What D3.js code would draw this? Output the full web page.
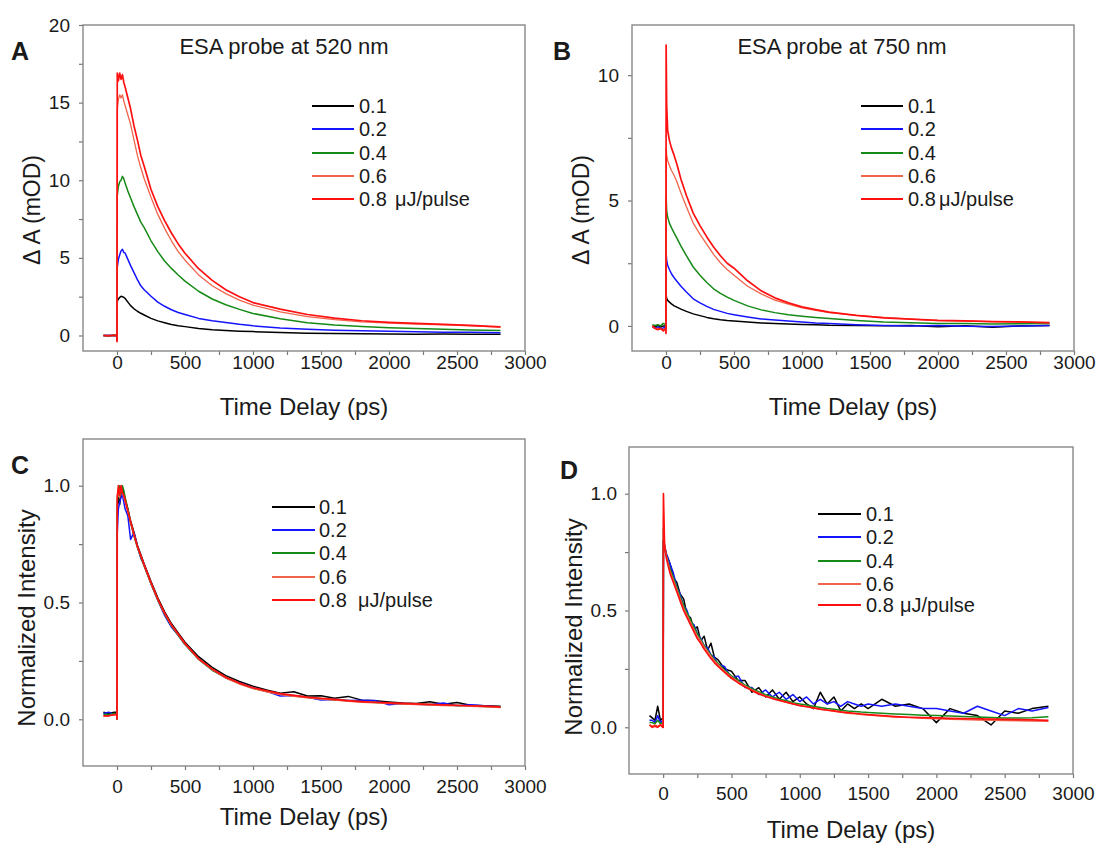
<!DOCTYPE html>
<html>
<head>
<meta charset="utf-8">
<script src="https://cdn.jsdelivr.net/npm/d3@7"></script>
<style>
body { margin: 0; background: #fff; }
svg text { font-family: "Liberation Sans", Arial, sans-serif; fill: #1a1a1a; }
</style>
</head>
<body>
<svg id="svg" width="1098" height="848"></svg>
<script>
// ---- data (time in ps) ----
var seriesNames = ["0.1", "0.2", "0.4", "0.6", "0.8"];

// panel A: ESA at 520 nm, dA in mOD
var timeA = [-100,-60,-20,-2,0,2,10,20,30,40,50,60,80,100,125,150,175,200,250,300,350,400,450,500,600,700,800,900,1000,1200,1400,1600,1800,2000,2200,2400,2600,2820];
var A_01 = [0,-0.02,0.01,0,-0.3, 2.2,2.35,2.45,2.52,2.5, 2.45,2.38,2.15,1.92,1.72, 1.56,1.43,1.32,1.1,0.94, 0.82,0.71,0.63,0.57,0.45, 0.37,0.32,0.28,0.25,0.19, 0.15,0.13,0.11,0.1,0.08, 0.09,0.08,0.08];
var A_02 = [0,0.01,-0.01,0,-0.3, 4.4,4.9,5.2,5.45,5.55, 5.35,5.3,4.9,4.5,4.05, 3.6,3.2,2.95,2.53,2.15, 1.88,1.66,1.48,1.35,1.1, 0.95,0.84,0.72,0.62,0.48, 0.4,0.34,0.3,0.27,0.24, 0.2,0.2,0.17];
var A_04 = [0,-0.02,0.01,0,-0.3, 9.0,9.6,9.9,10.0,10.25, 10.1,9.8,9.3,8.85,8.3, 7.8,7.3,6.95,6.1,5.4, 4.8,4.32,3.9,3.5,2.85, 2.35,1.98,1.68,1.42,1.08, 0.82,0.68,0.58,0.5,0.45, 0.4,0.36,0.32];
var A_06 = [0,0.01,-0.01,0,-0.3, 14.6,15.2,15.5,15.3,15.5, 15.1,14.8,14.2,13.6,12.6, 11.6,10.8,10.1,8.9,7.8, 6.9,6.1,5.4,4.85,3.9, 3.2,2.7,2.28,1.95,1.52, 1.22,1.02,0.88,0.8,0.74, 0.69,0.62,0.54];
var A_08 = [0,-0.02,0.02,0,-0.4, 16.9,16.4,16.9,16.5,16.8, 16.3,16.0,15.3,14.6,13.5, 12.6,11.6,10.9,9.4,8.3, 7.4,6.6,5.9,5.3,4.3, 3.55,2.95,2.5,2.12,1.7, 1.35,1.12,0.95,0.85,0.78, 0.72,0.65,0.56];

// panel B: ESA at 750 nm, dA in mOD
var timeB = [-100,-80,-60,-40,-20,-2,0,1,5,12,25,40,60,80,110,150,200,250,300,350,400,450,500,600,700,800,900,1000,1100,1200,1400,1600,1800,2000,2200,2400,2600,2820];
var B_01 = [0,-0.05,0.02,-0.05,0, 0,-0.05,1.24,1.1,1.02, 0.95,0.88,0.8,0.75,0.67, 0.58,0.48,0.41,0.34,0.29, 0.25,0.22,0.2,0.16,0.12, 0.1,0.08,0.06,0.05,0.03, 0.02,0.01,0.02,-0.03,0.01, -0.05,0.0,0.02];
var B_02 = [-0.05,-0.1,-0.05,-0.1,-0.08, -0.05,-0.1,2.9,2.6,2.42, 2.25,2.08,1.92,1.78,1.58, 1.35,1.08,0.92,0.78,0.66, 0.58,0.5,0.45,0.36,0.28, 0.24,0.2,0.16,0.12,0.1, 0.05,0.02,0.0,0.02,-0.01, -0.02,0.0,0.02];
var B_04 = [0.05,0.02,0.05,0.0,0.1, 0.05,-0.1,5.2,4.6,4.35, 4.1,3.92,3.7,3.5,3.18, 2.8,2.35,2.02,1.73,1.48, 1.3,1.15,1.02,0.8,0.64, 0.53,0.45,0.39,0.34,0.3, 0.22,0.16,0.13,0.1,0.1, 0.08,0.09,0.1];
var B_06 = [-0.05,-0.1,-0.1,-0.12,-0.15, -0.1,-0.2,7.1,6.8,6.6, 6.4,6.2,6.0,5.75,5.3, 4.75,4.1,3.65,3.25,2.85, 2.52,2.25,2.02,1.58,1.28, 1.03,0.87,0.72,0.62,0.53, 0.42,0.34,0.27,0.21,0.19, 0.17,0.15,0.12];
var B_08 = [0,-0.1,-0.15,-0.1,-0.2, -0.1,-0.3,11.2,8.8,7.8, 7.4,7.1,6.8,6.45,5.85, 5.2,4.5,4.0,3.55,3.15, 2.8,2.5,2.3,1.8,1.4, 1.12,0.92,0.76,0.65,0.55, 0.42,0.32,0.27,0.22,0.2, 0.17,0.16,0.13];

// panel C: 520 nm normalized
var timeC = [-100,-60,-20,-2,0,2,10,20,30,40,50,60,80,100,125,150,175,200,250,300,350,400,450,500,600,700,800,900,1000,1100,1200,1300,1400,1500,1600,1700,1800,1900,2000,2100,2200,2300,2400,2500,2600,2700,2820];
var C_01 = [0.03,0.025,0.03,0.03,0.02, 0.9,0.95,0.92,0.97,0.99, 0.97,0.94,0.9,0.85,0.8, 0.745,0.705,0.665,0.59,0.52, 0.46,0.41,0.37,0.33,0.268, 0.222,0.187,0.162,0.142,0.125, 0.112,0.118,0.1,0.101,0.09, 0.098,0.082,0.079,0.074,0.07, 0.068,0.075,0.064,0.072,0.06, 0.058,0.056];
var C_02 = [0.025,0.03,0.02,0.025,0.01, 0.8,0.9,0.93,0.95,0.96, 0.93,0.9,0.87,0.77,0.8, 0.74,0.69,0.66,0.58,0.51, 0.445,0.395,0.36,0.32,0.258, 0.212,0.178,0.155,0.135,0.12, 0.1,0.102,0.094,0.083,0.085, 0.08,0.082,0.08,0.062,0.068, 0.064,0.062,0.07,0.058,0.062, 0.058,0.052];
var C_04 = [0.02,0.02,0.025,0.02,0.0, 0.93,0.98,1.0,0.98,1.0, 0.98,0.95,0.9,0.84,0.785, 0.735,0.695,0.655,0.58,0.51, 0.45,0.4,0.36,0.32,0.256, 0.21,0.178,0.153,0.133,0.119, 0.108,0.1,0.094,0.088,0.084, 0.079,0.075,0.072,0.07,0.067, 0.065,0.063,0.061,0.059,0.057, 0.055,0.053];
var C_06 = [0.015,0.015,0.02,0.02,0.0, 0.96,0.98,0.95,0.99,0.97, 0.95,0.93,0.89,0.845,0.79, 0.74,0.7,0.66,0.582,0.512, 0.452,0.402,0.362,0.322,0.257, 0.212,0.176,0.151,0.131,0.117, 0.106,0.098,0.092,0.086,0.082, 0.077,0.073,0.07,0.067,0.065, 0.063,0.061,0.059,0.057,0.055, 0.053,0.05];
var C_08 = [0.015,0.015,0.02,0.02,0.0, 0.95,1.0,0.96,1.0,0.97, 0.96,0.94,0.89,0.845,0.79, 0.74,0.7,0.66,0.585,0.515, 0.455,0.405,0.365,0.325,0.26, 0.215,0.18,0.155,0.135,0.122, 0.11,0.102,0.095,0.09,0.085, 0.08,0.076,0.073,0.07,0.068, 0.066,0.064,0.062,0.06,0.058, 0.056,0.053];

// panel D: 750 nm normalized
var timeD = [-100,-80,-60,-40,-20,-2,0,2,10,25, 50,75,100,125,150,175,200,225,250,275, 300,325,350,375,400,450,500,550,600,650, 700,750,800,850,900,950,1000,1050,1100,1150, 1200,1250,1300,1350,1400,1450,1500,1600,1700,1800, 1900,2000,2100,2200,2300,2400,2500,2600,2700,2820];
var D_01 = [0.05,0.04,0.03,0.09,0.03,0.04,0.0,0.8,0.77,0.74, 0.7,0.64,0.62,0.57,0.55,0.48,0.47,0.42,0.43,0.37, 0.39,0.33,0.36,0.3,0.29,0.25,0.24,0.2,0.2,0.15, 0.17,0.13,0.16,0.12,0.15,0.11,0.13,0.1,0.08,0.15, 0.1,0.13,0.07,0.1,0.08,0.1,0.08,0.12,0.09,0.1, 0.08,0.02,0.08,0.06,0.05,0.01,0.07,0.06,0.08,0.09];
var D_02 = [0.03,0.03,0.02,0.05,0.02,0.03,0.0,0.8,0.78,0.74, 0.7,0.66,0.6,0.57,0.52,0.5,0.45,0.44,0.4,0.38, 0.35,0.34,0.31,0.3,0.27,0.26,0.21,0.22,0.17,0.17, 0.14,0.16,0.13,0.15,0.12,0.14,0.11,0.13,0.1,0.12, 0.1,0.11,0.09,0.11,0.1,0.09,0.1,0.09,0.1,0.09, 0.08,0.08,0.07,0.06,0.09,0.07,0.05,0.08,0.07,0.085];
var D_04 = [0.02,0.02,0.015,0.03,0.015,0.02,0.0,0.85,0.77,0.73, 0.68,0.64,0.6,0.56,0.52,0.49,0.46,0.43,0.4,0.375, 0.35,0.33,0.31,0.29,0.275,0.245,0.22,0.2,0.18,0.165, 0.152,0.14,0.13,0.12,0.115,0.105,0.1,0.095,0.09,0.085, 0.08,0.077,0.073,0.07,0.068,0.065,0.063,0.06,0.057,0.055, 0.052,0.05,0.048,0.046,0.044,0.042,0.04,0.04,0.041,0.045];
var D_06 = [0.01,0.005,0.01,0.005,0.01,0.01,0.0,0.9,0.79,0.73, 0.67,0.63,0.59,0.55,0.51,0.48,0.45,0.42,0.39,0.37, 0.345,0.325,0.305,0.285,0.27,0.24,0.215,0.195,0.177,0.16, 0.147,0.135,0.125,0.116,0.108,0.1,0.094,0.088,0.082,0.077, 0.072,0.068,0.064,0.06,0.057,0.054,0.052,0.048,0.044,0.041, 0.038,0.036,0.034,0.033,0.031,0.03,0.029,0.028,0.027,0.025];
var D_08 = [0.01,0.0,0.005,0.0,0.01,0.0,0.0,1.0,0.78,0.72, 0.66,0.62,0.58,0.54,0.5,0.47,0.44,0.41,0.38,0.36, 0.335,0.315,0.295,0.277,0.262,0.235,0.21,0.19,0.172,0.157, 0.143,0.132,0.123,0.115,0.108,0.1,0.093,0.088,0.083,0.078, 0.074,0.07,0.066,0.063,0.06,0.057,0.054,0.05,0.046,0.043, 0.041,0.04,0.038,0.037,0.036,0.035,0.034,0.033,0.032,0.03];

var xMajor = [0,500,1000,1500,2000,2500,3000];
var xMinor = [250,750,1250,1750,2250,2750];

var colorList = ["#000000","#1414ff","#168a16","#f0644c","#ff1010"];
var widthList = [1.5,1.5,1.5,1.3,1.7];

var svg = d3.select("#svg");

function drawPanel(p){
    var g = svg.append("g");
    var x = d3.scaleLinear().domain([-250,3000]).range([p.left,p.right]);
    var y = d3.scaleLinear().domain(p.yDomain).range([p.bottom,p.top]);

    // ticks
    var gx = g.append("g").attr("transform","translate(0,"+p.bottom+")");
    gx.append("g").call(d3.axisBottom(x).tickValues(xMinor).tickSize(4).tickFormat(""));
    gx.append("g").call(d3.axisBottom(x).tickValues(xMajor).tickSize(4).tickFormat(d3.format("d")));
    gx.selectAll("text").attr("y", p.xTickY - p.bottom).attr("dy", null)
        .style("font-size","19px");

    var gy = g.append("g").attr("transform","translate("+p.left+",0)");
    gy.append("g").call(d3.axisLeft(y).tickValues(p.yMinor).tickSize(4).tickFormat(""));
    gy.append("g").call(d3.axisLeft(y).tickValues(p.yMajor).tickSize(4).tickPadding(p.yPad).tickFormat(d3.format(p.yFmt)));
    gy.selectAll("text").style("font-size","19px");

    g.selectAll(".domain").remove();
    g.selectAll(".tick line").attr("stroke","#777").attr("stroke-width",1.2);
    g.selectAll(".tick text").style("fill","#1a1a1a").attr("font-family",null);

    // frame
    g.append("rect")
        .attr("x",p.left).attr("y",p.top)
        .attr("width",p.right-p.left).attr("height",p.bottom-p.top)
        .attr("fill","none").attr("stroke","#888").attr("stroke-width",1.4);

    // curves
    var line = d3.line().x(function(d){ return x(d[0]); }).y(function(d){ return y(d[1]); });
    for (let i = 0; i < p.series.length; i++){
        var pts = p.time.map(function(t,j){ return [t, p.series[i][j]]; });
        g.append("path").datum(pts)
            .attr("d", line)
            .attr("fill","none")
            .attr("stroke", colorList[i])
            .attr("stroke-width", widthList[i])
            .attr("stroke-linejoin","round");
    }

    // legend
    for (let i = 0; i < seriesNames.length; i++){
        g.append("line")
            .attr("x1",p.legX1).attr("x2",p.legX2)
            .attr("y1",p.legY[i]).attr("y2",p.legY[i])
            .attr("stroke",colorList[i]).attr("stroke-width",2);
        g.append("text")
            .attr("x",p.legTextX).attr("y",p.legY[i]+7)
            .style("font-size","20px")
            .text(seriesNames[i]);
    }
    g.append("text")
        .attr("x",p.unitX).attr("y",p.legY[4]+7)
        .style("font-size","20px")
        .text("μJ/pulse");

    // labels
    g.append("text")
        .attr("x",p.letterX).attr("y",p.letterY)
        .style("font-size","25px").style("font-weight","bold")
        .text(p.letter);
    if (p.title){
        g.append("text")
            .attr("x",p.titleX).attr("y",p.titleY)
            .attr("text-anchor","middle")
            .style("font-size","22px")
            .text(p.title);
    }
    g.append("text")
        .attr("x",(p.left+p.right)/2).attr("y",p.xLabelY)
        .attr("text-anchor","middle")
        .style("font-size","24px")
        .text("Time Delay (ps)");
    g.append("text")
        .attr("transform","translate("+p.yLabelX+","+p.yLabelY+") rotate(-90)")
        .attr("text-anchor","middle")
        .style("font-size",p.yLabelSize)
        .text(p.yLabel);
}

drawPanel({
    left:83, right:525, top:25, bottom:351,
    yDomain:[-1,20], yMajor:[0,5,10,15,20], yMinor:[2.5,7.5,12.5,17.5], yFmt:"d", yPad:9,
    time:timeA, series:[A_01,A_02,A_04,A_06,A_08],
    xTickY:369, xLabelY:415,
    letter:"A", letterX:11, letterY:60,
    title:"ESA probe at 520 nm", titleX:284, titleY:54,
    yLabel:"\u0394 A (mOD)", yLabelX:40, yLabelY:210, yLabelSize:"23px",
    legX1:312, legX2:354, legTextX:359, legY:[106,129,153,176,199], unitX:395
});

drawPanel({
    left:632, right:1074, top:25, bottom:351,
    yDomain:[-1,12], yMajor:[0,5,10], yMinor:[2.5,7.5], yFmt:"d", yPad:9,
    time:timeB, series:[B_01,B_02,B_04,B_06,B_08],
    xTickY:369, xLabelY:415,
    letter:"B", letterX:553, letterY:60,
    title:"ESA probe at 750 nm", titleX:842, titleY:54,
    yLabel:"\u0394 A (mOD)", yLabelX:589, yLabelY:210, yLabelSize:"23px",
    legX1:861, legX2:903, legTextX:908, legY:[106,129,153,176,199], unitX:939
});

drawPanel({
    left:83, right:525, top:439, bottom:766,
    yDomain:[-0.2,1.2], yMajor:[0,0.5,1], yMinor:[0.25,0.75], yFmt:".1f", yPad:9,
    time:timeC, series:[C_01,C_02,C_04,C_06,C_08],
    xTickY:793, xLabelY:825,
    letter:"C", letterX:11, letterY:474,
    title:null,
    yLabel:"Normalized Intensity", yLabelX:35, yLabelY:618, yLabelSize:"24px",
    legX1:272, legX2:315, legTextX:319, legY:[507,530,553,577,600], unitX:358
});

drawPanel({
    left:629, right:1073, top:447, bottom:774,
    yDomain:[-0.2,1.2], yMajor:[0,0.5,1], yMinor:[0.25,0.75], yFmt:".1f", yPad:8,
    time:timeD, series:[D_01,D_02,D_04,D_06,D_08],
    xTickY:800, xLabelY:838,
    letter:"D", letterX:560, letterY:479,
    title:null,
    yLabel:"Normalized Intensity", yLabelX:582, yLabelY:627, yLabelSize:"24px",
    legX1:818, legX2:861, legTextX:866, legY:[514,537,561,584,605], unitX:900
});
</script>
</body>
</html>
